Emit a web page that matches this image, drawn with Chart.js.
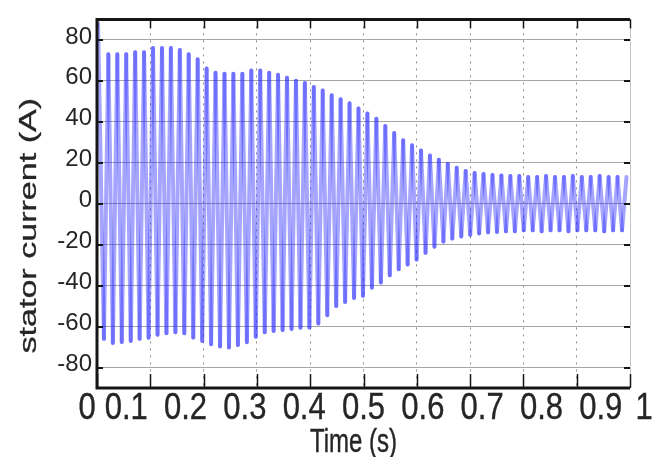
<!DOCTYPE html>
<html><head><meta charset="utf-8">
<script src="https://cdn.jsdelivr.net/npm/chart.js@4"></script>
<style>html,body{margin:0;padding:0;background:#fff;} #wrap{width:654px;height:457px;}</style>
</head><body><div id="wrap"><canvas id="c" width="654" height="457"></canvas></div>
<script>
// Positive peaks of the stator current (time in s, current in A)
const peakTimes = [0.002, 0.0213, 0.0381, 0.0548, 0.0716, 0.0883, 0.1051, 0.1219, 0.1386, 0.1554, 0.1721, 0.1889, 0.2057, 0.2224, 0.2392, 0.2559, 0.2727, 0.2895, 0.3062, 0.3230, 0.3397, 0.3565, 0.3733, 0.3900, 0.4068, 0.4235, 0.4403, 0.4571, 0.4738, 0.4906, 0.5073, 0.5241, 0.5409, 0.5576, 0.5744, 0.5911, 0.6079, 0.6247, 0.6414, 0.6582, 0.6749, 0.6917, 0.7085, 0.7252, 0.7420, 0.7587, 0.7755, 0.7923, 0.8090, 0.8258, 0.8425, 0.8593, 0.8761, 0.8928, 0.9096, 0.9263, 0.9431, 0.9599, 0.9766, 0.9934];
const peakValues = [88, 73, 73, 73, 74, 74, 76, 76, 76, 75, 73, 70.5, 66, 64, 63.5, 63.5, 63.5, 65, 65, 64, 63, 61.5, 60, 59, 57, 55.3, 53, 51, 49, 46.5, 44, 41.5, 38, 34.5, 31, 28.5, 26, 23.5, 21.5, 19.5, 17.5, 16, 15, 14.5, 14, 13.8, 13.5, 13.5, 13, 13, 13.5, 13, 13, 13.5, 13, 13, 13.5, 13, 13, 13];
// Negative peaks
const troughTimes = [0.0130, 0.0298, 0.0465, 0.0633, 0.0800, 0.0968, 0.1136, 0.1303, 0.1471, 0.1638, 0.1806, 0.1974, 0.2141, 0.2309, 0.2476, 0.2644, 0.2812, 0.2979, 0.3147, 0.3314, 0.3482, 0.3650, 0.3817, 0.3985, 0.4152, 0.4320, 0.4488, 0.4655, 0.4823, 0.4990, 0.5158, 0.5326, 0.5493, 0.5661, 0.5828, 0.5996, 0.6164, 0.6331, 0.6499, 0.6666, 0.6834, 0.7002, 0.7169, 0.7337, 0.7504, 0.7672, 0.7840, 0.8007, 0.8175, 0.8342, 0.8510, 0.8678, 0.8845, 0.9013, 0.9180, 0.9348, 0.9516, 0.9683, 0.9851];
const troughValues = [-66, -68, -67.5, -67, -66, -65.5, -64, -63.3, -62.8, -63.3, -65.4, -67, -68.6, -69.7, -70.2, -69, -67.6, -65, -62.8, -62.2, -61.7, -61.2, -60.6, -60.5, -58.5, -54.5, -50, -48, -46, -45, -41, -38.5, -35, -32, -29.7, -27.3, -24, -21, -18.5, -17, -16, -15.2, -14.5, -14, -13.8, -13.5, -13.5, -13, -13, -13.5, -13, -13, -13.5, -13, -13, -13, -13.5, -13, -13];

const xTickValues = [0, 0.1, 0.2, 0.3, 0.4, 0.5, 0.6, 0.7, 0.8, 0.9, 1];
const xTickLabels = ['0', '0.1', '0.2', '0.3', '0.4', '0.5', '0.6', '0.7', '0.8', '0.9', '1'];
const yTickValues = [-80, -60, -40, -20, 0, 20, 40, 60, 80];
const yTickLabels = ['-80', '-60', '-40', '-20', '0', '20', '40', '60', '80'];
const xTitle = 'Time (s)';
const yTitle = 'stator current (A)';

const points = peakTimes.map((t, i) => ({x: t, y: peakValues[i]}))
  .concat(troughTimes.map((t, i) => ({x: t, y: troughValues[i]})))
  .sort((a, b) => a.x - b.x);

const FONT = 'Arial, Helvetica, sans-serif';
const TEXT = '#262626';

function drawText(ctx, s) {
  ctx.lineWidth = 0.3; ctx.strokeStyle = TEXT;
  ctx.fillText(s, 0, 0); ctx.strokeText(s, 0, 0);
}

const matlabAxes = {
  id: 'matlabAxes',
  afterDraw(chart) {
    const ctx = chart.ctx, ca = chart.chartArea;
    const xs = chart.scales.x, ys = chart.scales.y;
    ctx.save();
    // faint right edge
    ctx.strokeStyle = '#c4c4c4'; ctx.lineWidth = 1;
    ctx.beginPath(); ctx.moveTo(ca.right + 0.5, ca.top); ctx.lineTo(ca.right + 0.5, ca.bottom); ctx.stroke();
    // heavy box lines (top, left, bottom)
    ctx.strokeStyle = '#151515'; ctx.lineWidth = 3;
    ctx.beginPath();
    ctx.moveTo(ca.right, ca.top); ctx.lineTo(ca.left, ca.top);
    ctx.lineTo(ca.left, ca.bottom); ctx.lineTo(ca.right, ca.bottom);
    ctx.stroke();
    // inward tick marks
    ctx.lineWidth = 1.5;
    xTickValues.forEach(v => {
      const px = Math.round(xs.getPixelForValue(v)) + 0.5;
      ctx.beginPath(); ctx.moveTo(px, ca.bottom); ctx.lineTo(px, ca.bottom - 14); ctx.stroke();
      ctx.beginPath(); ctx.moveTo(px, ca.top); ctx.lineTo(px, ca.top + 9); ctx.stroke();
    });
    ctx.lineWidth = 2;
    yTickValues.forEach(v => {
      const py = Math.round(ys.getPixelForValue(v));
      ctx.beginPath(); ctx.moveTo(ca.left, py); ctx.lineTo(ca.left + 6, py); ctx.stroke();
      ctx.beginPath(); ctx.moveTo(ca.right - 6, py); ctx.lineTo(ca.right, py); ctx.stroke();
    });
    // x tick labels (spread like the exported figure)
    ctx.fillStyle = TEXT;
    ctx.textAlign = 'center'; ctx.textBaseline = 'alphabetic';
    ctx.font = '31px ' + FONT;
    const mid = xs.getPixelForValue(0.5);
    xTickValues.forEach((v, i) => {
      const px = xs.getPixelForValue(v);
      let lx = mid + (px - mid) * 1.113;
      if (i === 0) lx = px - 10;
      if (i === xTickValues.length - 1) lx = px + 14;
      ctx.save(); ctx.translate(lx, ca.bottom + 31); ctx.scale(1, 1.17);
      drawText(ctx, xTickLabels[i]); ctx.restore();
    });
    // axis titles
    ctx.font = '24px ' + FONT;
    ctx.save(); ctx.translate((ca.left + ca.right) / 2 - 10, ca.bottom + 64); ctx.scale(1, 1.37);
    drawText(ctx, xTitle); ctx.restore();
    ctx.save(); ctx.translate(29, (ca.top + ca.bottom) / 2 + 22); ctx.rotate(-Math.PI / 2); ctx.scale(1.42, 1);
    ctx.textBaseline = 'middle'; drawText(ctx, yTitle); ctx.restore();
    ctx.restore();
  }
};

new Chart(document.getElementById('c'), {
  type: 'line',
  data: {
    datasets: [{
      label: 'stator current',
      data: points,
      borderColor: 'rgba(40,40,255,0.42)',
      borderWidth: 4,
      borderCapStyle: 'round',
      borderJoinStyle: 'round',
      pointRadius: 0,
      tension: 0,
      fill: false,
      // alternate two near-identical strokes so each half-cycle is painted on its own
      segment: {
        borderColor: c => (c.p0DataIndex % 2 ? 'rgba(40,40,255,0.42)' : 'rgba(41,40,255,0.42)')
      }
    }]
  },
  options: {
    responsive: false,
    animation: false,
    devicePixelRatio: 1,
    layout: {padding: {left: 0, right: 24, top: 13, bottom: 0}},
    plugins: {legend: {display: false}, tooltip: {enabled: false}, title: {display: false}},
    scales: {
      x: {
        type: 'linear', min: 0, max: 1,
        afterBuildTicks: s => { s.ticks = xTickValues.map(v => ({value: v})); },
        afterFit: s => { s.height = 69; },
        ticks: {display: false},
        grid: {color: 'rgba(100,100,100,0.75)', lineWidth: 1, drawTicks: false},
        border: {display: false, dash: [2, 5]}
      },
      y: {
        type: 'linear', min: -90, max: 90,
        afterBuildTicks: s => { s.ticks = yTickValues.map(v => ({value: v})); },
        afterFit: s => { s.width = 97; },
        ticks: {
          padding: 5, labelOffset: -3, color: TEXT,
          font: {family: FONT, size: 24},
          callback: v => yTickLabels[yTickValues.indexOf(v)]
        },
        grid: {color: 'rgba(150,150,150,0.85)', lineWidth: 1, drawTicks: false},
        border: {display: false}
      }
    }
  },
  plugins: [matlabAxes]
});
</script>
</body></html>
